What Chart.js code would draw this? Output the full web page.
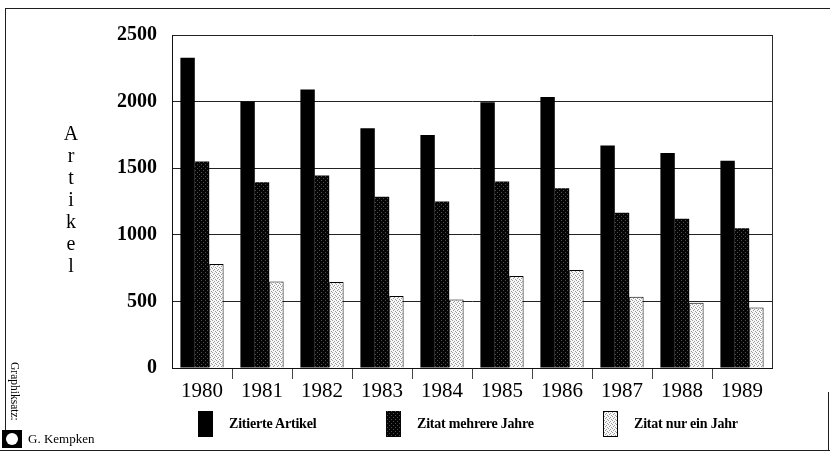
<!DOCTYPE html>
<html>
<head>
<meta charset="utf-8">
<script src="https://cdn.jsdelivr.net/npm/chart.js@4.4.1/dist/chart.umd.min.js"></script>
<style>
    html, body { margin: 0; padding: 0; background: #fff; }
    #wrap { position: relative; width: 830px; height: 457px; font-family: 'Liberation Serif', serif; color: #000; overflow: hidden; }
    #wrap canvas { position: absolute; left: 0; top: 0; }
    .line { position: absolute; background: #1e1e1e; }
    .axis-title { position: absolute; left: 58px; top: 122px; width: 26px; text-align: center; font-size: 20px; line-height: 22px; }
    .lg-box { position: absolute; top: 411px; width: 15px; height: 26px; box-sizing: border-box; }
    .lg-text { position: absolute; top: 414px; font-size: 14px; font-weight: bold; line-height: 20px; white-space: nowrap; letter-spacing: -0.2px; }
    .credit-rot { position: absolute; left: 21px; top: 362px; font-size: 11.5px; line-height: 13px; transform-origin: 0 0; transform: rotate(90deg); white-space: nowrap; }
    .credit-logo { position: absolute; left: 2px; top: 430px; width: 20px; height: 18px; background: #000; }
    .credit-logo::after { content: ''; position: absolute; left: 4px; top: 3px; width: 12px; height: 12px; border-radius: 50%; background: #fff; }
    .credit-name { position: absolute; left: 28px; top: 431px; font-size: 13px; line-height: 16px; white-space: nowrap; }
</style>
</head>
<body>
<div id="wrap">
    <canvas id="chart" width="830" height="457"></canvas>

    <!-- scanned page frame -->
    <div class="line" style="left:5px; top:8px; width:825px; height:1px;"></div>
    <div class="line" style="left:5px; top:8px; width:1px; height:422px;"></div>
    <div class="line" style="left:0; top:450px; width:830px; height:1px;"></div>
    <div class="line" style="left:828px; top:392px; width:1px; height:58px;"></div>

    <div class="axis-title">A<br>r<br>t<br>i<br>k<br>e<br>l</div>

    <div class="lg-box" id="lg0" style="left:198px;"></div>
    <div class="lg-text" style="left:229px;">Zitierte Artikel</div>
    <div class="lg-box" id="lg1" style="left:386px;"></div>
    <div class="lg-text" style="left:417px;">Zitat mehrere Jahre</div>
    <div class="lg-box" id="lg2" style="left:603px; border:1px solid #000;"></div>
    <div class="lg-text" style="left:634px;">Zitat nur ein Jahr</div>

    <div class="credit-rot">Graphiksatz:</div>
    <div class="credit-logo"></div>
    <div class="credit-name">G. Kempken</div>
</div>

<script>
const years = ['1980', '1981', '1982', '1983', '1984', '1985', '1986', '1987', '1988', '1989'];
const zitierteArtikel = [2330, 2000, 2090, 1800, 1750, 1995, 2035, 1670, 1615, 1555];
const zitatMehrereJahre = [1550, 1395, 1445, 1285, 1250, 1400, 1350, 1165, 1120, 1050];
const zitatNurEinJahr = [780, 650, 645, 540, 515, 690, 735, 535, 490, 455];
const yTicks = [0, 500, 1000, 1500, 2000, 2500];

// Small dithered tiles, like the screened print of the original.
function makeTile(base, dot, dots) {
    const tile = document.createElement('canvas');
    tile.width = 4;
    tile.height = 4;
    const c = tile.getContext('2d');
    c.fillStyle = base;
    c.fillRect(0, 0, 4, 4);
    c.fillStyle = dot;
    dots.forEach(([x, y]) => c.fillRect(x, y, 1, 1));
    return tile;
}

const darkTile = makeTile('#050505', '#4c4c4c', [[1, 0], [3, 2]]);
const lightTile = makeTile('#f8f8f8', '#9a9a9a', [[0, 0], [2, 1], [1, 2], [3, 3]]);
const ctx = document.getElementById('chart').getContext('2d');
const darkFill = ctx.createPattern(darkTile, 'repeat');
const lightFill = ctx.createPattern(lightTile, 'repeat');

document.getElementById('lg0').style.background = '#000';
document.getElementById('lg1').style.backgroundImage = `url(${darkTile.toDataURL()})`;
document.getElementById('lg2').style.backgroundImage = `url(${lightTile.toDataURL()})`;

// Right edge of the plot box; top/left/bottom come from grid and axis borders.
const plotFrame = {
    id: 'plotFrame',
    beforeDatasetsDraw(chart) {
        const { ctx: c, chartArea: a } = chart;
        c.save();
        c.strokeStyle = '#2a2a2a';
        c.lineWidth = 1;
        c.beginPath();
        c.moveTo(Math.round(a.right) + 0.5, a.top);
        c.lineTo(Math.round(a.right) + 0.5, a.bottom);
        c.stroke();
        c.restore();
    },
};

new Chart(ctx, {
    type: 'bar',
    data: {
        labels: years,
        datasets: [
            { label: 'Zitierte Artikel', data: zitierteArtikel, backgroundColor: '#000' },
            { label: 'Zitat mehrere Jahre', data: zitatMehrereJahre, backgroundColor: darkFill },
            { label: 'Zitat nur ein Jahr', data: zitatNurEinJahr, backgroundColor: lightFill, borderColor: '#000', borderWidth: 1 },
        ],
    },
    options: {
        responsive: false,
        animation: false,
        layout: { padding: { top: 35, right: 58, bottom: 0, left: 0 } },
        datasets: { bar: { barPercentage: 1, categoryPercentage: 0.72 } },
        plugins: { legend: { display: false }, tooltip: { enabled: false } },
        scales: {
            x: {
                offset: true,
                afterFit: (scale) => { scale.height = 89; },
                border: { color: '#111', width: 1 },
                grid: {
                    offset: true,
                    drawOnChartArea: false,
                    tickLength: 11,
                    // No tick marks at the two outer edges of the plot.
                    color: (c) => (c.index > 0 ? '#444' : 'rgba(0,0,0,0)'),
                },
                ticks: { color: '#000', padding: 0, font: { family: "'Liberation Serif', serif", size: 21 } },
            },
            y: {
                min: 0,
                max: 2500,
                afterFit: (scale) => { scale.width = 172; },
                afterBuildTicks: (scale) => { scale.ticks = yTicks.map((v) => ({ value: v })); },
                border: { color: '#111', width: 1 },
                grid: { color: '#222', lineWidth: 1, drawTicks: false },
                ticks: {
                    color: '#000',
                    padding: 15,
                    font: { family: "'Liberation Serif', serif", size: 20, weight: 'bold' },
                    callback: (v) => String(v),
                },
            },
        },
    },
    plugins: [plotFrame],
});
</script>
</body>
</html>
